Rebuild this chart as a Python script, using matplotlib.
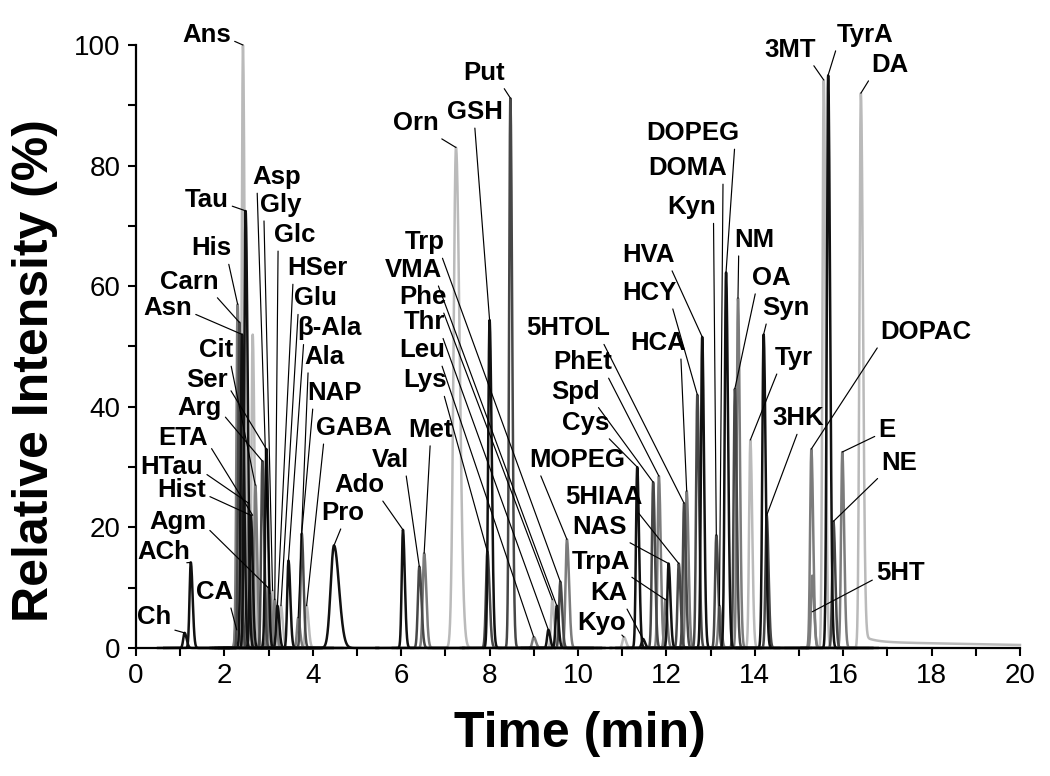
import numpy as np
import matplotlib.pyplot as plt
from matplotlib.ticker import MultipleLocator

plt.rcParams['font.family'] = ['Liberation Sans', 'DejaVu Sans']

# compounds, retention time (min), relative intensity (%), trace shade
names = ["Ch", "ACh", "CA", "His", "Carn", "Ans", "Asn", "Tau", "HTau", "Hist",
         "ETA", "Cit", "Arg", "Ser", "Agm", "Asp", "Gly", "Glc", "HSer", "Glu",
         "β-Ala", "Ala", "NAP", "GABA", "Pro", "Ado", "Val", "Met", "Orn", "Lys",
         "GSH", "Put", "Leu", "Thr", "Phe", "VMA", "Trp", "MOPEG", "Kyo", "Cys",
         "KA", "Spd", "PhEt", "TrpA", "NAS", "5HIAA", "5HTOL", "HCA", "HCY", "HVA",
         "Kyn", "DOMA", "DOPEG", "OA", "NM", "Tyr", "Syn", "3HK", "DOPAC", "5HT",
         "3MT", "TyrA", "NE", "E", "DA"]
times = [1.10, 1.24, 2.28, 2.30, 2.34, 2.42, 2.40, 2.48, 2.55, 2.60,
         2.64, 2.70, 2.86, 2.95, 2.99, 3.03, 3.09, 3.14, 3.20, 3.28,
         3.45, 3.67, 3.75, 3.86, 4.48, 6.04, 6.41, 6.52, 7.24, 7.95,
         8.00, 8.47, 9.00, 9.33, 9.42, 9.52, 9.60, 9.75, 11.04, 11.34,
         11.47, 11.70, 11.83, 11.98, 12.05, 12.28, 12.40, 12.46, 12.70, 12.81,
         13.13, 13.20, 13.35, 13.55, 13.62, 13.90, 14.20, 14.27, 15.28, 15.30,
         15.56, 15.66, 15.78, 15.98, 16.40]
heights = [2.5, 14.2, 6, 57, 54, 100, 52, 72.5, 24, 22,
           52, 27, 31, 33, 10, 9, 9.5, 8, 7, 7,
           14.5, 5, 19, 7, 17, 19.6, 13.5, 15.7, 83, 16,
           54.4, 91.2, 1.8, 3, 8, 7, 11, 18, 1.8, 30,
           1.5, 27.5, 28.5, 8, 14, 14, 24, 26, 42, 51.6,
           18.7, 7, 62.3, 43, 58, 34.5, 52, 22, 33, 12,
           94.2, 95, 21, 32.5, 92]
shades = ["k", "k", "m", "m", "d", "l", "k", "k", "m", "k",
          "l", "m", "d", "k", "m", "m", "l", "m", "k", "l",
          "k", "m", "d", "l", "k", "k", "d", "m", "l", "d",
          "k", "d", "m", "k", "l", "k", "d", "m", "l", "k",
          "k", "d", "m", "m", "k", "d", "d", "m", "d", "k",
          "d", "m", "k", "d", "m", "l", "k", "d", "m", "m",
          "l", "k", "d", "m", "l"]
sigmas = [0.03, 0.028, 0.03, 0.028, 0.028, 0.028, 0.03, 0.032, 0.028, 0.028,
          0.028, 0.028, 0.028, 0.028, 0.028, 0.028, 0.028, 0.028, 0.028, 0.028,
          0.028, 0.028, 0.028, 0.03, 0.075, 0.028, 0.032, 0.032, 0.055, 0.032,
          0.032, 0.028, 0.032, 0.028, 0.028, 0.028, 0.028, 0.032, 0.032, 0.028,
          0.03, 0.028, 0.028, 0.028, 0.028, 0.028, 0.028, 0.028, 0.028, 0.028,
          0.028, 0.028, 0.03, 0.028, 0.028, 0.028, 0.03, 0.028, 0.028, 0.028,
          0.028, 0.03, 0.028, 0.028, 0.032]

# label placement (data coords) and where the leader line starts on the text box
label_t = [0.40, 0.64, 1.78, 1.71, 1.21, 1.59, 0.71, 1.59, 0.81, 1.03,
           1.07, 1.82, 1.44, 1.60, 0.94, 3.18, 3.27, 3.59, 4.10, 4.06,
           4.38, 4.26, 4.50, 4.94, 4.67, 5.05, 5.76, 6.66, 6.33, 6.55,
           7.66, 7.88, 6.47, 6.53, 6.49, 6.28, 6.53, 9.99, 10.53, 10.17,
           10.71, 9.94, 10.10, 10.53, 10.49, 10.58, 9.77, 11.82, 11.62, 11.60,
           12.57, 12.48, 12.60, 14.38, 14.00, 14.88, 14.71, 14.99, 17.86, 17.30,
           14.79, 16.50, 17.27, 17.00, 17.05]
label_h = [5.1, 15.9, 9.3, 66.3, 60.7, 101.7, 56.4, 74.3, 30.0, 26.2,
           34.8, 49.4, 39.8, 44.4, 20.9, 78.1, 73.5, 68.5, 63.0, 58.0,
           53.0, 48.3, 42.3, 36.5, 22.4, 27.0, 31.2, 36.2, 87.0, 44.4,
           88.9, 95.4, 49.4, 54.0, 58.2, 62.7, 67.3, 31.2, 4.1, 37.3,
           9.1, 42.5, 47.4, 14.3, 20.0, 25.0, 53.0, 50.6, 58.9, 65.2,
           73.1, 79.6, 85.4, 61.4, 67.7, 48.1, 56.4, 38.1, 52.4, 12.4,
           99.2, 101.7, 30.7, 36.2, 96.7]
rel = {"r": (1, 0.3), "br": (0.9, 0.05), "b": (0.1, 0), "bc": (0.5, 0),
       "bR": (0.95, 0), "bL": (0, 0), "l": (0, 0.3)}
label_side = ["br", "br", "br", "br", "br", "r", "r", "r", "r", "r",
              "r", "br", "r", "r", "r", "b", "b", "b", "b", "b",
              "b", "b", "b", "b", "bc", "br", "br", "bc", "br", "br",
              "bc", "br", "br", "br", "br", "br", "br", "b", "br", "br",
              "br", "br", "br", "br", "br", "br", "br", "br", "br", "br",
              "bR", "bR", "bR", "b", "b", "b", "b", "bc", "bL", "l",
              "br", "bL", "bL", "l", "bL"]
tips = {"CA": 3, "ETA": 22, "5HT": 6}

colors = {"k": "#111111", "d": "#474747", "m": "#7c7c7c", "l": "#bababa"}
order = {"l": 0, "m": 1, "d": 2, "k": 3}

fig = plt.figure(figsize=(10.5, 7.76), dpi=100)
ax = fig.add_axes([0.1295, 0.165, 0.8419, 0.777])

for i in sorted(range(len(names)), key=lambda j: order[shades[j]]):
    t, h, s = times[i], heights[i], sigmas[i]
    end = 20 if names[i] == "DA" else t + 1.0
    x = np.linspace(t - 0.6, end, 1500 if names[i] == "DA" else 400)
    sd = np.where(x < t, s, 1.5 * s)
    y = h * np.exp(-0.5 * ((x - t) / sd) ** 2)
    if names[i] == "DA":
        y = y + np.where(x > t, 1.2 * np.exp(-(x - t) / 0.25) + 1.0 - 0.14 * (x - t), 0) * (1 - np.exp(-((x - t) / 0.05) ** 2))
    ax.plot(x, y, color=colors[shades[i]], lw=1.8, clip_on=False,
            zorder=2 + order[shades[i]] * 0.1)

for i, name in enumerate(names):
    tip = tips.get(name, heights[i])
    ax.annotate(name, xy=(times[i], tip), xytext=(label_t[i], label_h[i]),
                ha="center", va="center", fontsize=18.5, fontweight="bold",
                annotation_clip=False, zorder=5,
                arrowprops=dict(arrowstyle="-", lw=0.85, color="black",
                                relpos=rel[label_side[i]], shrinkA=1, shrinkB=0))

ax.set_xlim(0, 20)
ax.set_ylim(0, 100)
ax.xaxis.set_major_locator(MultipleLocator(2))
ax.xaxis.set_minor_locator(MultipleLocator(1))
ax.yaxis.set_major_locator(MultipleLocator(20))
ax.yaxis.set_minor_locator(MultipleLocator(10))
ax.tick_params(which="both", direction="out", length=6, width=1.5,
               labelsize=20, pad=5)
for side in ["top", "right"]:
    ax.spines[side].set_visible(False)
for side in ["left", "bottom"]:
    ax.spines[side].set_linewidth(1.6)

ax.set_xlabel("Time (min)", fontsize=36, fontweight="bold")
ax.set_ylabel("Relative Intensity (%)", fontsize=36, fontweight="bold")
ax.xaxis.set_label_coords(0.502, -0.105)
ax.yaxis.set_label_coords(-0.088, 0.46)

fig.savefig("out.png", dpi=100)
